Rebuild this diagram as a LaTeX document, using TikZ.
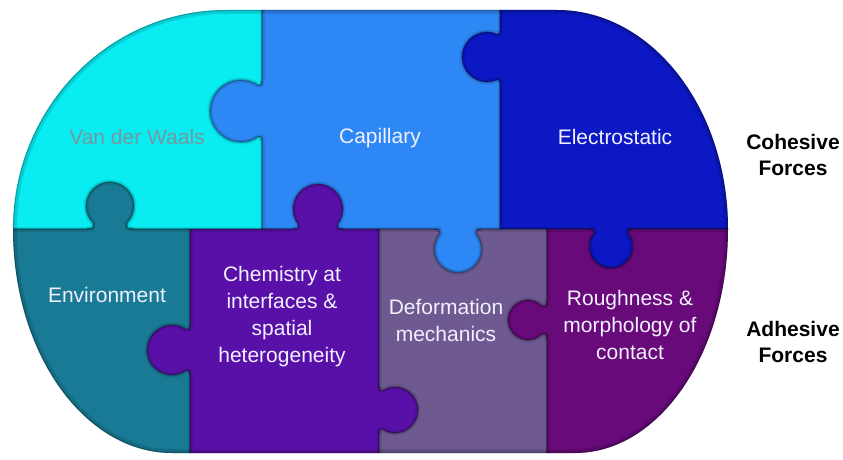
\documentclass[tikz,border=0pt]{standalone}
\usepackage{fontspec}
\setmainfont{Liberation Sans}
\definecolor{cVdW}{RGB}{8,236,242}
\definecolor{cVdWtxt}{RGB}{118,152,158}
\definecolor{cCap}{RGB}{45,135,245}
\definecolor{cEle}{RGB}{12,24,196}
\definecolor{cEnv}{RGB}{24,122,148}
\definecolor{cChe}{RGB}{88,16,168}
\definecolor{cDef}{RGB}{110,90,145}
\definecolor{cRou}{RGB}{104,10,122}
\definecolor{cTxt}{RGB}{242,240,255}
\tikzset{
  pzedge/.style={draw=black, draw opacity=0.28, line width=1.6pt},
  pzsoft/.style={draw=black, draw opacity=0.10, line width=5pt},
  pzlabel/.style={text=cTxt, align=center, font=\fontsize{21}{27}\selectfont, inner sep=0pt},
  pzside/.style={text=black, align=center, font=\fontsize{21}{26}\selectfont\bfseries, inner sep=0pt}
}
\newcommand\pzknob[7]{%
\begin{scope}[shift={(#1,#2)},rotate=#3]
\pgfmathsetmacro\pzW{sqrt((#4)^2-((#5)-(#6))^2)}
\pgfmathsetmacro\pzP{atan(((#5)-(#6))/\pzW)}
\pgfmathsetmacro\pzWF{\pzW+#6}
\fill[#7] (-\pzWF,0) .. controls (-\pzW,0) .. (-\pzW,#6) arc[start angle=180+\pzP, end angle=-\pzP, radius=#4] .. controls (\pzW,0) .. (\pzWF,0) -- (\pzWF,-4) -- (-\pzWF,-4) -- cycle;
\draw[pzsoft] (-\pzWF,0) .. controls (-\pzW,0) .. (-\pzW,#6) arc[start angle=180+\pzP, end angle=-\pzP, radius=#4] .. controls (\pzW,0) .. (\pzWF,0);
\draw[pzedge] (-\pzWF,0) .. controls (-\pzW,0) .. (-\pzW,#6) arc[start angle=180+\pzP, end angle=-\pzP, radius=#4] .. controls (\pzW,0) .. (\pzWF,0);
\end{scope}}
\begin{document}
\begin{tikzpicture}[x=1pt,y=1pt]
\useasboundingbox (0,0) rectangle (843,459);
\def\pzoutline{(13,230) arc[start angle=180,end angle=90,x radius=213,y radius=219] -- (557,449) arc[start angle=90,end angle=0,x radius=171,y radius=219] arc[start angle=0,end angle=-90,x radius=153,y radius=224] -- (172,6) arc[start angle=-90,end angle=-180,x radius=159,y radius=224] -- cycle}
% base pieces, dividers and knobs, all inside the outline
\begin{scope}
\clip \pzoutline;
\fill[cVdW] (0,230) rectangle (262,459);
\fill[cCap] (262,230) rectangle (500,459);
\fill[cEle] (500,230) rectangle (843,459);
\fill[cEnv] (0,0) rectangle (190,230);
\fill[cChe] (190,0) rectangle (379,230);
\fill[cDef] (379,0) rectangle (547,230);
\fill[cRou] (547,0) rectangle (843,230);
% dividers
\coordinate (hl) at (0,230);
\coordinate (hr) at (843,230);
\foreach \pzs in {pzsoft,pzedge}{
\draw[\pzs] (hl) -- (hr);
\draw[\pzs] (262,230) -- (262,459);
\draw[\pzs] (500,230) -- (500,459);
\draw[\pzs] (190,0) -- (190,230);
\draw[\pzs] (379,0) -- (379,230);
\draw[\pzs] (547,0) -- (547,230);
}
% knobs: x, y, rotation, radius, centre distance, fillet, colour
\pzknob{262}{348}{90}{31}{21}{4}{cCap}
\pzknob{500}{402}{90}{25}{13}{3}{cEle}
\pzknob{110}{230}{0}{24}{23}{6}{cEnv}
\pzknob{318}{230}{0}{25}{20}{5}{cChe}
\pzknob{458}{230}{180}{23.5}{20}{5}{cCap}
\pzknob{611}{230}{180}{21.5}{17.5}{4}{cEle}
\pzknob{190}{109}{90}{25}{18}{4}{cChe}
\pzknob{547}{139}{90}{20}{19}{5}{cRou}
\pzknob{379}{49}{-90}{23}{16}{4}{cChe}
% soft inner rim along the outer edge
\draw[draw=black, draw opacity=0.12, line width=8pt] \pzoutline;
\draw[draw=black, draw opacity=0.22, line width=2.4pt] \pzoutline;
\end{scope}
% labels
\node[pzlabel, text=cVdWtxt] (vdw) at (137,322) {Van der Waals};
\node[pzlabel] (cap) at (380,321) {Capillary};
\node[pzlabel] (ele) at (615,322) {Electrostatic};
\node[pzlabel] (env) at (107,164) {Environment};
\node[pzlabel] (che) at (282,142) {Chemistry at\\interfaces \&\\spatial\\heterogeneity};
\node[pzlabel] (def) at (446,139) {Deformation\\mechanics};
\node[pzlabel] (rou) at (630,134) {Roughness \&\\morphology of\\contact};
\node[pzside] (coh) at (793,304) {Cohesive\\Forces};
\node[pzside] (adh) at (793,117) {Adhesive\\Forces};
\end{tikzpicture}
\end{document}
